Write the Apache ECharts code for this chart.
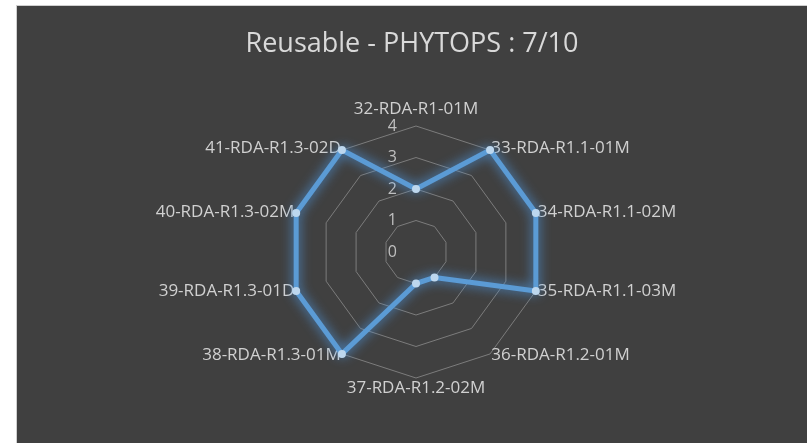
<!DOCTYPE html>
<html>
<head>
<meta charset="utf-8">
<script src="https://cdn.jsdelivr.net/npm/echarts@6/dist/echarts.min.js"></script>
<style>
  html, body { margin: 0; padding: 0; background: #ffffff; }
  #frame {
    position: absolute; left: 16px; top: 5px; width: 790px; height: 438px;
    border-left: 1px solid #cfcfcf; border-top: 1px solid #cfcfcf;
    background: #404040;
  }
  #chart { width: 790px; height: 438px; }
</style>
</head>
<body>
<div id="frame"><div id="chart"></div></div>
<script>
const chartTitle = 'Reusable - PHYTOPS : 7/10';
const categories = [
  '32-RDA-R1-01M', '33-RDA-R1.1-01M', '34-RDA-R1.1-02M', '35-RDA-R1.1-03M',
  '36-RDA-R1.2-01M', '37-RDA-R1.2-02M', '38-RDA-R1.3-01M', '39-RDA-R1.3-01D',
  '40-RDA-R1.3-02M', '41-RDA-R1.3-02D'
];
const scores = [2, 4, 4, 4, 1, 1, 4, 4, 4, 4];
const axisMax = 4;

// echarts goes counterclockwise, the original goes clockwise: keep first, flip the rest
const order = [0].concat(categories.map((c, i) => i).slice(1).reverse());

const indicators = order.map((i, k) => {
  const ind = { name: categories[i], min: 0, max: axisMax };
  if (k === 0) ind.axisLabel = { show: true };
  return ind;
});
const values = order.map(i => scores[i]);

const labelFont = 'Open Sans';

const chart = echarts.init(document.getElementById('chart'));
chart.setOption({
  backgroundColor: '#404040',
  animation: false,
  title: {
    text: chartTitle,
    left: 'center',
    top: 20,
    textStyle: { color: '#d9d9d9', fontSize: 27, fontWeight: 'normal', fontFamily: labelFont }
  },
  radar: {
    center: [399, 246],
    radius: 126,
    startAngle: 90,
    shape: 'polygon',
    splitNumber: 4,
    indicator: indicators,
    axisName: {
      color: '#d0d0d0',
      fontSize: 17,
      fontFamily: labelFont
    },
    nameGap: 2,
    axisLine: { show: false },
    axisTick: { show: false },
    axisLabel: {
      show: false,
      color: '#bfbfbf',
      fontSize: 16,
      fontFamily: labelFont,
      margin: 19
    },
    splitLine: { lineStyle: { color: '#7c7c7c', width: 1 } },
    splitArea: { show: false }
  },
  series: [{
    type: 'radar',
    symbol: 'circle',
    symbolSize: 8,
    lineStyle: {
      color: '#5b9bd5',
      width: 5,
      shadowColor: 'rgba(80, 160, 240, 0.95)',
      shadowBlur: 12
    },
    itemStyle: { color: '#bdd7ee', borderWidth: 0 },
    data: [{ value: values, name: 'PHYTOPS' }]
  }]
});
</script>
</body>
</html>
